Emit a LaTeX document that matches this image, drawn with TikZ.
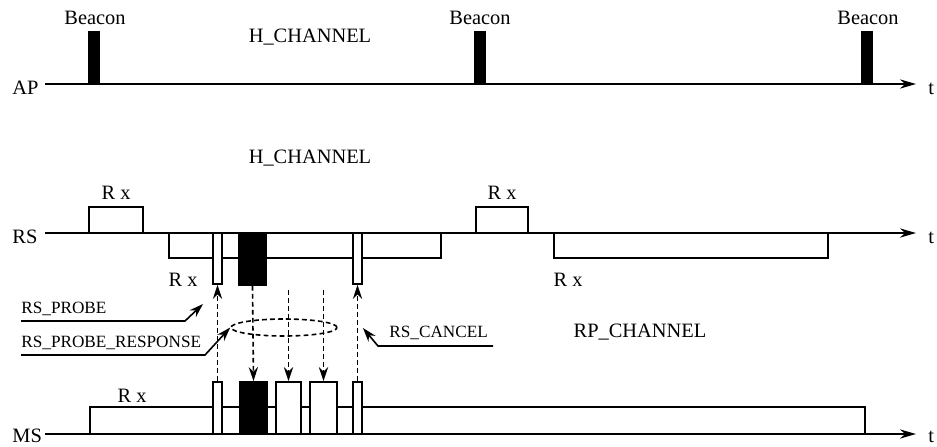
\documentclass[tikz,border=0pt]{standalone}
\usepackage{fontspec}
\setmainfont{Liberation Serif}
\usetikzlibrary{arrows.meta,shapes.geometric,fit}
\begin{document}
\begin{tikzpicture}[x=0.5pt,y=-0.5pt,
  every node/.style={font=\fontsize{10.2}{12}\selectfont},
  small/.style={font=\fontsize{8.6}{10}\selectfont},
  lbl/.style={anchor=base,inner sep=0pt},
  axis/.style={line width=0.9pt,-{Stealth[length=8pt,width=4.6pt]}},
  rxbox/.style={draw,line width=0.9pt,inner sep=0pt},
  wbox/.style={draw,fill=white,line width=0.9pt,inner sep=0pt},
  bbox/.style={draw,fill=black,line width=0.9pt,inner sep=0pt},
  dasharrow/.style={line width=0.8pt,dash pattern=on 2.4pt off 1.6pt,-{Stealth[length=7pt,width=4.6pt]}},
  leader/.style={line width=0.8pt,-{Stealth[length=7pt,width=4.6pt]}}
]
\useasboundingbox (0,0) rectangle (937,446);

% axes
\node[lbl,anchor=base west] (ap) at (12,94) {AP};
\node[lbl,anchor=base west] (rs) at (12,243) {RS};
\node[lbl,anchor=base west] (ms) at (12,442) {MS};
\coordinate (apS) at (45,84);  \coordinate (apE) at (916,84);
\coordinate (rsS) at (45,233); \coordinate (rsE) at (916,233);
\coordinate (msS) at (45,434); \coordinate (msE) at (916,434);
\draw[axis] (apS) -- (apE);
\draw[axis] (rsS) -- (rsE);
\draw[axis] (msS) -- (msE);
\node[lbl,anchor=base west] (t1) at (928,94) {t};
\node[lbl,anchor=base west] (t2) at (928,243) {t};
\node[lbl,anchor=base west] (t3) at (928,442) {t};

% AP beacons
\node[bbox,fit={(89,32) (99,84)}] (b1) {};
\node[bbox,fit={(475,32) (485,84)}] (b2) {};
\node[bbox,fit={(862,32) (872,84)}] (b3) {};
\node[lbl] (bl1) at (95,24) {Beacon};
\node[lbl] (bl2) at (480,24) {Beacon};
\node[lbl] (bl3) at (868,24) {Beacon};
\node[lbl] (hch1) at (310,42) {H\_CHANNEL};
\node[lbl] (hch2) at (310,163) {H\_CHANNEL};

% RS Rx boxes
\node[rxbox,fit={(89,207) (143,233)}] (rsRx1) {};
\node[rxbox,fit={(476,207) (528,233)}] (rsRx2) {};
\node[rxbox,fit={(169,233) (441,258)}] (rsRx3) {};
\node[rxbox,fit={(554,233) (828,258)}] (rsRx4) {};
\node[lbl] (rxl1) at (116,199) {R x};
\node[lbl] (rxl2) at (502,199) {R x};
\node[lbl] (rxl3) at (183,286) {R x};
\node[lbl] (rxl4) at (568,286) {R x};

% RS frames
\node[wbox,fit={(213,233) (222,284)}] (rsA) {};
\node[bbox,fit={(239,233) (266,285)}] (rsB) {};
\node[wbox,fit={(353,233) (362,284)}] (rsE2) {};

% MS Rx box and frames
\node[rxbox,fit={(90,407) (865,434)}] (msRx) {};
\node[lbl] (rxl5) at (132,402) {R x};
\node[wbox,fit={(213,382) (222,434)}] (msA) {};
\node[bbox,fit={(240,382) (267,434)}] (msB) {};
\node[wbox,fit={(276,382) (301,434)}] (msC) {};
\node[wbox,fit={(310,382) (337,434)}] (msD) {};
\node[wbox,fit={(353,382) (362,434)}] (msE) {};

% dashed transfers
\coordinate (c1) at (288.5,290);
\coordinate (c2) at (323.5,290);
\draw[dasharrow] (msA.north) -- (rsA.south);
\draw[dasharrow] (rsB.south) -- (msB.north);
\draw[dasharrow] (c1) -- (msC.north);
\draw[dasharrow] (c2) -- (msD.north);
\draw[dasharrow] (msE.north) -- (rsE2.south);
\node[draw,ellipse,line width=0.8pt,dash pattern=on 2.4pt off 1.6pt,
      minimum width=53pt,minimum height=8.5pt,inner sep=0pt] (resp) at (284,327.5) {};

% labels with leaders
\node[lbl,small,anchor=base west] (probe) at (21,313) {RS\_PROBE};
\coordinate (p1) at (21,321); \coordinate (p2) at (185,321); \coordinate (p3) at (203,304);
\draw[leader] (p1) -- (p2) -- (p3);

\node[lbl,small,anchor=base west] (presp) at (21,347) {RS\_PROBE\_RESPONSE};
\coordinate (q1) at (21,355); \coordinate (q2) at (205,355);
\draw[leader] (q1) -- (q2) -- (resp.west);

\node[lbl,small,anchor=base west] (cancel) at (389,337) {RS\_CANCEL};
\coordinate (r1) at (493,346); \coordinate (r2) at (378,346); \coordinate (r3) at (363,328);
\draw[leader] (r1) -- (r2) -- (r3);

\node[lbl] (rpch) at (640,337) {RP\_CHANNEL};
\end{tikzpicture}
\end{document}
